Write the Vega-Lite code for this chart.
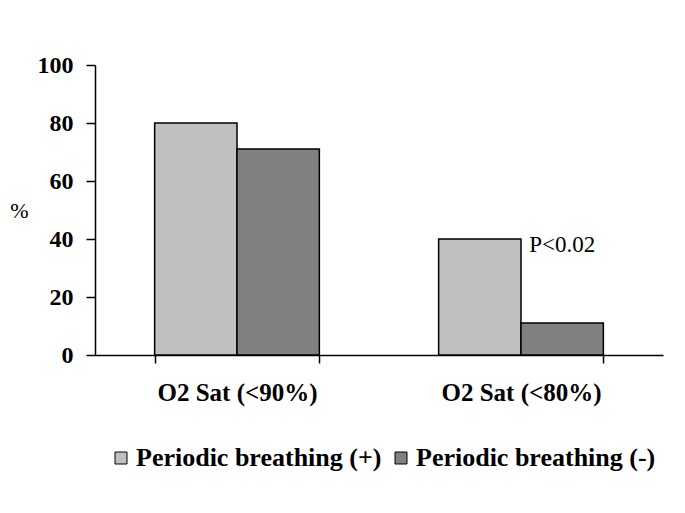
{
  "$schema": "https://vega.github.io/schema/vega-lite/v6.json",
  "width": 568,
  "height": 290,
  "autosize": "none",
  "padding": {"left": 95, "top": 65, "right": 22, "bottom": 158},
  "background": "white",
  "config": {"view": {"stroke": null}, "font": "Liberation Serif"},
  "datasets": {
    "bars": [
      {"category": "O2 Sat (<90%)", "group": "Periodic breathing (+)", "value": 80},
      {"category": "O2 Sat (<90%)", "group": "Periodic breathing (-)", "value": 71},
      {"category": "O2 Sat (<80%)", "group": "Periodic breathing (+)", "value": 40},
      {"category": "O2 Sat (<80%)", "group": "Periodic breathing (-)", "value": 11}
    ],
    "notes": [
      {"category": "O2 Sat (<80%)", "group": "Periodic breathing (-)", "value": 40, "label": "P<0.02"}
    ]
  },
  "layer": [
    {
      "data": {"name": "bars"},
      "mark": {"type": "bar", "stroke": "black", "strokeWidth": 1.5},
      "encoding": {
        "x": {
          "field": "category",
          "type": "nominal",
          "sort": ["O2 Sat (<90%)", "O2 Sat (<80%)"],
          "scale": {"paddingInner": 0.42, "paddingOuter": 0.21},
          "axis": {
            "title": null,
            "tickBand": "extent",
            "labelAngle": 0,
            "domainColor": "black",
            "domainWidth": 1.5,
            "tickColor": "black",
            "tickWidth": 1.5,
            "tickSize": 8,
            "labelPadding": 17,
            "labelFont": "Liberation Serif",
            "labelFontSize": 25,
            "labelFontWeight": "bold",
            "labelColor": "black"
          }
        },
        "xOffset": {
          "field": "group",
          "type": "nominal",
          "sort": ["Periodic breathing (+)", "Periodic breathing (-)"],
          "scale": {"paddingInner": 0, "paddingOuter": 0}
        },
        "y": {
          "field": "value",
          "type": "quantitative",
          "scale": {"domain": [0, 100]},
          "axis": {
            "title": "%",
            "titleAngle": 0,
            "titleX": -76,
            "titleY": 145,
            "titleAlign": "center",
            "titleBaseline": "middle",
            "titleFont": "Liberation Serif",
            "titleFontSize": 22,
            "titleFontWeight": "normal",
            "titleColor": "black",
            "values": [0, 20, 40, 60, 80, 100],
            "grid": false,
            "domainColor": "black",
            "domainWidth": 1.5,
            "tickColor": "black",
            "tickWidth": 1.5,
            "tickSize": 9,
            "labelPadding": 13,
            "labelFont": "Liberation Serif",
            "labelFontSize": 24,
            "labelFontWeight": "bold",
            "labelColor": "black"
          }
        },
        "color": {
          "field": "group",
          "type": "nominal",
          "scale": {
            "domain": ["Periodic breathing (+)", "Periodic breathing (-)"],
            "range": ["#c0c0c0", "#808080"]
          },
          "legend": {
            "title": null,
            "orient": "none",
            "legendX": 13,
            "legendY": 380,
            "direction": "horizontal",
            "symbolType": "square",
            "symbolSize": 144,
            "symbolStrokeColor": "black",
            "symbolStrokeWidth": 1,
            "labelFont": "Liberation Serif",
            "labelFontSize": 26,
            "labelFontWeight": "bold",
            "labelColor": "black",
            "labelOffset": 2,
            "columnPadding": 6,
            "labelLimit": 400
          }
        }
      }
    },
    {
      "data": {"name": "notes"},
      "mark": {
        "type": "text",
        "font": "Liberation Serif",
        "fontSize": 23,
        "baseline": "alphabetic",
        "align": "center",
        "dy": 13,
        "color": "black"
      },
      "encoding": {
        "x": {"field": "category", "type": "nominal", "sort": ["O2 Sat (<90%)", "O2 Sat (<80%)"]},
        "xOffset": {"field": "group", "type": "nominal", "sort": ["Periodic breathing (+)", "Periodic breathing (-)"]},
        "y": {"field": "value", "type": "quantitative"},
        "text": {"field": "label"}
      }
    }
  ]
}
